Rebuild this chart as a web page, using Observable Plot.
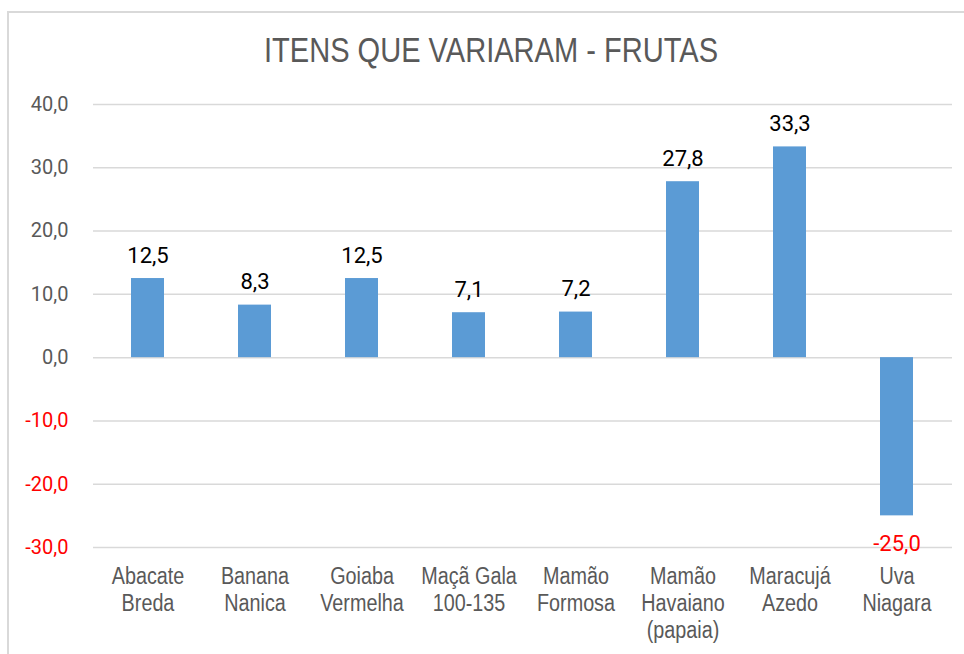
<!DOCTYPE html>
<html>
<head>
<meta charset="utf-8">
<script src="https://cdn.jsdelivr.net/npm/d3@7"></script>
<script src="https://cdn.jsdelivr.net/npm/@observablehq/plot@0.6"></script>
<style>
  html, body { margin: 0; padding: 0; background: #fff; overflow: hidden; }
  #wrap { position: relative; width: 964px; height: 654px; }
  #frame { position: absolute; left: 7px; top: 11px; width: 1000px; height: 700px; border: 2px solid #d9d9d9; box-sizing: border-box; }
  #title { position: absolute; left: 9px; top: 30px; width: 964px; text-align: center; font-family: "Liberation Sans", Arial, sans-serif; font-size: 35px; color: #595959; line-height: 40px; transform: scaleX(0.83); transform-origin: 482px 0; }
  #chart { position: absolute; left: 0; top: 0; }
</style>
</head>
<body>
<div id="wrap">
  <div id="frame"></div>
  <div id="chart"></div>
  <div id="title">ITENS QUE VARIARAM - FRUTAS</div>
</div>
<script>
const categories = ["Abacate\nBreda", "Banana\nNanica", "Goiaba\nVermelha", "Maçã Gala\n100-135", "Mamão\nFormosa", "Mamão\nHavaiano\n(papaia)", "Maracujá\nAzedo", "Uva\nNiagara"];
const values = [12.5, 8.3, 12.5, 7.1, 7.2, 27.8, 33.3, -25.0];
const posTicks = [0, 10, 20, 30, 40];
const negTicks = [-10, -20, -30];

const data = categories.map((c, i) => ({name: c, value: values[i]}));
const fmt = d => d.toFixed(1).replace(".", ",");

const plot = Plot.plot({
  width: 964,
  height: 654,
  marginLeft: 93,
  marginRight: 12,
  marginTop: 104,
  marginBottom: 107,
  style: {fontFamily: "Roboto, sans-serif", background: "transparent", overflow: "visible"},
  x: {domain: categories, paddingInner: 0.69, paddingOuter: 0.345, label: null},
  y: {domain: [-30, 40], label: null},
  marks: [
    Plot.gridY([...negTicks, ...posTicks], {stroke: "#d9d9d9", strokeOpacity: 1, strokeWidth: 1.5}),
    Plot.axisY(posTicks, {tickSize: 0, tickPadding: 25, tickFormat: fmt, fontSize: 20, fill: "#595959", label: null}),
    Plot.axisY(negTicks, {tickSize: 0, tickPadding: 25, tickFormat: fmt, fontSize: 20, fill: "#ff0000", label: null}),
    Plot.axisX({tickSize: 0, tickPadding: 17, fontSize: 23, fill: "#595959", lineHeight: 1.18, lineAnchor: "top", fontFamily: "'Liberation Sans', Arial, sans-serif", label: null}),
    Plot.barY(data, {x: "name", y: "value", fill: "#5B9BD5"}),
    Plot.text(data.filter(d => d.value >= 0), {x: "name", y: "value", text: d => fmt(d.value), dy: -16, lineAnchor: "bottom", fontSize: 22, fill: "#000"}),
    Plot.text(data.filter(d => d.value < 0), {x: "name", y: "value", text: d => fmt(d.value), dy: 20, lineAnchor: "top", fontSize: 22, fill: "#ff0000"})
  ]
});
// condense the category labels horizontally, like the narrow face of the original
plot.querySelectorAll('g[aria-label="x-axis tick label"] text').forEach(t => {
  const tr = t.getAttribute("transform") || "";
  t.setAttribute("transform", tr + " scale(0.86,1)");
});
document.getElementById("chart").appendChild(plot);
</script>
</body>
</html>
